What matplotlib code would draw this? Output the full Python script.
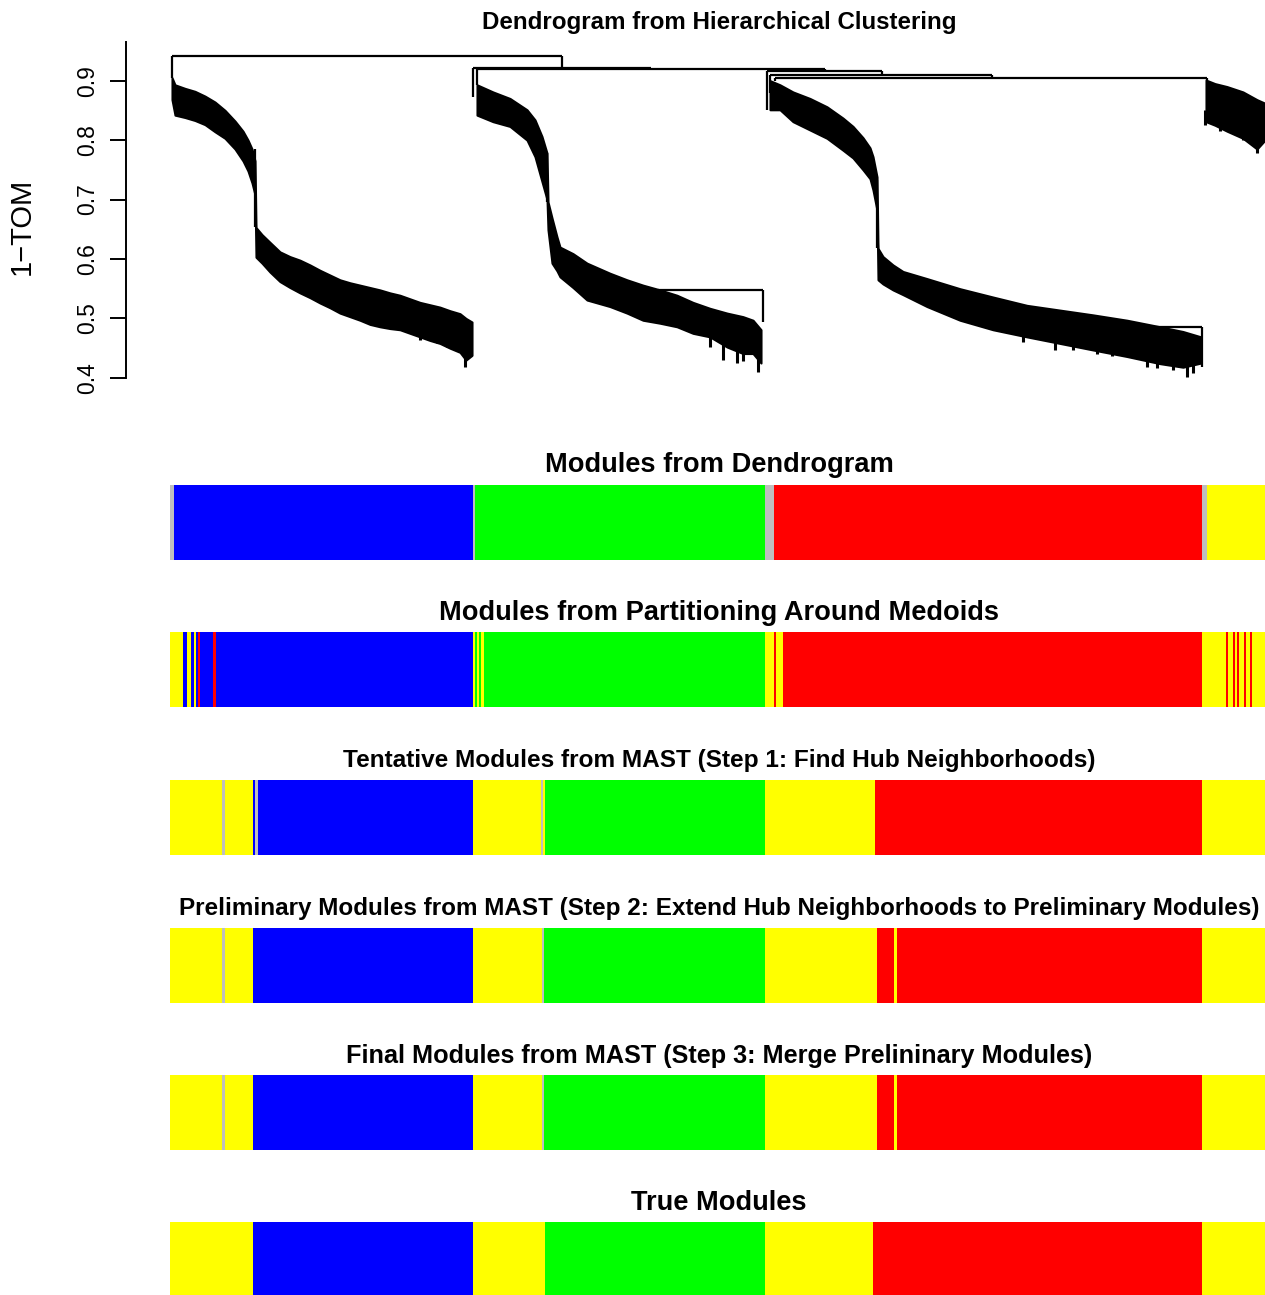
"""
Dendrogram from hierarchical clustering with module colour bars
"""
# importing the required libraries
import numpy as np
import matplotlib
matplotlib.use('Agg')
import matplotlib.pyplot as plt

plt.rcParams['font.family'] = ['Liberation Sans', 'DejaVu Sans']

# leaf positions are in leaf-order units, 0 .. N_LEAVES
N_LEAVES = 1095

# ---- dendrogram: dense branches of each cluster (leaf position, upper and lower height)
c1_x = [2, 5, 15, 25, 35, 45, 55, 65, 73, 78, 82, 85,
        86, 92, 100, 110, 120, 130, 140, 150, 160, 170, 180, 190,
        200, 210, 220, 230, 240, 250, 260, 270, 280, 290, 296, 302]
c1_top = [0.905, 0.893, 0.887, 0.882, 0.874, 0.864, 0.850, 0.832, 0.815, 0.800, 0.785, 0.765,
          0.653, 0.641, 0.628, 0.612, 0.604, 0.598, 0.590, 0.581, 0.573, 0.565, 0.560, 0.556,
          0.552, 0.548, 0.543, 0.539, 0.533, 0.527, 0.523, 0.519, 0.513, 0.508, 0.500, 0.494]
c1_bottom = [0.868, 0.842, 0.838, 0.833, 0.826, 0.814, 0.803, 0.785, 0.765, 0.748, 0.728, 0.708,
             0.603, 0.593, 0.578, 0.562, 0.552, 0.543, 0.535, 0.526, 0.518, 0.509, 0.503, 0.497,
             0.490, 0.486, 0.483, 0.481, 0.475, 0.469, 0.463, 0.458, 0.450, 0.443, 0.430, 0.438]

c2_x = [307, 323, 340, 357, 365, 372, 377,
        378, 382, 387, 390, 403, 417, 440, 457, 473, 490, 507, 523, 540, 557, 573, 583, 591]
c2_top = [0.893, 0.881, 0.870, 0.851, 0.834, 0.806, 0.778,
          0.696, 0.669, 0.637, 0.620, 0.609, 0.593, 0.576, 0.565, 0.556, 0.548, 0.539,
          0.527, 0.517, 0.509, 0.503, 0.497, 0.481]
c2_bottom = [0.842, 0.831, 0.823, 0.800, 0.772, 0.730, 0.700,
             0.649, 0.593, 0.580, 0.570, 0.552, 0.531, 0.520, 0.509, 0.497, 0.492, 0.486,
             0.475, 0.469, 0.452, 0.441, 0.441, 0.425]

c3_x = [600, 610, 623, 640, 657, 673, 683, 693, 700, 703, 707,
        708, 713, 723, 733, 757, 790, 823, 857, 890, 923, 957, 990, 1013, 1031]
c3_top = [0.900, 0.893, 0.881, 0.870, 0.856, 0.837, 0.823, 0.804, 0.787, 0.772, 0.738,
          0.618, 0.604, 0.590, 0.579, 0.567, 0.550, 0.536, 0.522, 0.514, 0.506, 0.497,
          0.486, 0.478, 0.469]
c3_bottom = [0.851, 0.851, 0.831, 0.817, 0.803, 0.783, 0.770, 0.750, 0.735, 0.716, 0.682,
             0.565, 0.558, 0.548, 0.540, 0.520, 0.497, 0.481, 0.469, 0.458, 0.447, 0.436,
             0.424, 0.418, 0.425]

c4_x = [1036, 1045, 1057, 1073, 1087, 1095]
c4_top = [0.901, 0.895, 0.890, 0.881, 0.868, 0.862]
c4_bottom = [0.831, 0.825, 0.815, 0.803, 0.785, 0.800]

# single leaves hanging below the dense branches
spike_x = [250, 267, 277, 295,
           540, 553, 567, 573, 588,
           853, 885, 903, 927, 942, 958, 977, 987, 1003, 1017, 1023,
           1035, 1050, 1073, 1087]
spike_low = [0.463, 0.458, 0.452, 0.418,
             0.452, 0.430, 0.425, 0.428, 0.410,
             0.461, 0.447, 0.447, 0.441, 0.436, 0.436, 0.418, 0.416, 0.413, 0.402, 0.408,
             0.825, 0.815, 0.800, 0.778]
spike_high = [0.480, 0.470, 0.460, 0.445,
              0.470, 0.460, 0.450, 0.450, 0.440,
              0.480, 0.465, 0.460, 0.455, 0.450, 0.450, 0.440, 0.440, 0.435, 0.430, 0.430,
              0.850, 0.840, 0.830, 0.810]

# ---- dendrogram: upper merges (left x, right x, height, left child height, right child height)
link_left = [2, 303, 307, 597, 600, 605, 488, 980]
link_right = [392, 481, 654.5, 712, 822, 1037, 593, 1032]
link_height = [0.942, 0.921, 0.919, 0.917, 0.909, 0.905, 0.548, 0.486]
link_left_child = [0.905, 0.873, 0.893, 0.851, 0.880, 0.900, 0.540, 0.480]
link_right_child = [0.921, 0.919, 0.917, 0.909, 0.905, 0.901, 0.494, 0.418]

# long stems joining the upper and lower parts of a cluster
stem_x = [85, 377, 707]
stem_top = [0.785, 0.778, 0.733]
stem_bottom = [0.653, 0.696, 0.618]

# ---- module colour bars: start of each run and its colour
bar_titles = [
    'Modules from Dendrogram',
    'Modules from Partitioning Around Medoids',
    'Tentative Modules from MAST (Step 1: Find Hub Neighborhoods)',
    'Preliminary Modules from MAST (Step 2: Extend Hub Neighborhoods to Preliminary Modules)',
    'Final Modules from MAST (Step 3: Merge Prelininary Modules)',
    'True Modules',
]
dendro_starts = [0, 4, 303, 305, 595, 604, 1032, 1037]
dendro_colors = ['grey', 'blue', 'grey', 'green', 'grey', 'red', 'grey', 'yellow']

pam_starts = [0, 13, 17, 21, 24, 26, 28, 30, 43, 46, 303, 305, 307, 309, 311, 314,
              595, 604, 606, 613, 1032, 1056, 1058, 1063, 1065, 1067, 1069, 1074,
              1076, 1080, 1082]
pam_colors = ['yellow', 'blue', 'yellow', 'blue', 'yellow', 'blue', 'red', 'blue', 'red',
              'blue', 'yellow', 'green', 'yellow', 'green', 'yellow', 'green',
              'yellow', 'red', 'yellow', 'red', 'yellow', 'red', 'yellow', 'red',
              'yellow', 'red', 'yellow', 'red', 'yellow', 'red', 'yellow']

tentative_starts = [0, 52, 55, 83, 85, 88, 303, 371, 373, 375, 595, 705, 1032]
tentative_colors = ['yellow', 'grey', 'yellow', 'blue', 'grey', 'blue', 'yellow', 'grey',
                    'yellow', 'green', 'yellow', 'red', 'yellow']

prelim_starts = [0, 52, 55, 83, 303, 372, 374, 595, 707, 724, 727, 1032]
prelim_colors = ['yellow', 'grey', 'yellow', 'blue', 'yellow', 'grey', 'green', 'yellow',
                 'red', 'yellow', 'red', 'yellow']

final_starts = [0, 52, 55, 83, 303, 372, 374, 595, 707, 724, 727, 1032]
final_colors = ['yellow', 'grey', 'yellow', 'blue', 'yellow', 'grey', 'green', 'yellow',
                'red', 'yellow', 'red', 'yellow']

true_starts = [0, 83, 303, 375, 595, 703, 1032]
true_colors = ['yellow', 'blue', 'yellow', 'green', 'yellow', 'red', 'yellow']

R_COLORS = {'grey': '#BEBEBE', 'blue': '#0000FF', 'green': '#00FF00',
            'red': '#FF0000', 'yellow': '#FFFF00'}

W, H = 1265, 1295


def px_rect(left, top, width, height):
    """pixel box -> figure fraction rectangle"""
    return [left / W, 1 - (top + height) / H, width / W, height / H]


def draw_dendrogram(fig):
    """
    dense dendrogram drawn from the branch profiles and merge heights
    """
    ax = fig.add_axes(px_rect(126, 42, W - 126, 368))
    for x, top, bottom in [(c1_x, c1_top, c1_bottom), (c2_x, c2_top, c2_bottom),
                           (c3_x, c3_top, c3_bottom), (c4_x, c4_top, c4_bottom)]:
        ax.fill_between(x, bottom, top, color='black', linewidth=1.5, edgecolor='black')

    ax.vlines(spike_x, spike_low, spike_high, color='black', linewidth=2.2)
    ax.hlines(link_height, link_left, link_right, color='black', linewidth=1.6)
    ax.vlines(link_left, link_left_child, link_height, color='black', linewidth=1.6)
    ax.vlines(link_right, link_right_child, link_height, color='black', linewidth=1.6)
    ax.vlines(stem_x, stem_bottom, stem_top, color='black', linewidth=1.6)

    ax.set_xlim(-44, N_LEAVES)
    ax.set_ylim(0.346, 0.965)
    ax.set_xticks([])
    for side in ['top', 'right', 'bottom']:
        ax.spines[side].set_visible(False)
    ax.spines['left'].set_bounds(0.4, 0.965)
    ax.spines['left'].set_linewidth(1.4)
    ticks = [0.4, 0.5, 0.6, 0.7, 0.8, 0.9]
    ax.set_yticks(ticks)
    ax.set_yticklabels([f'{t:.1f}' for t in ticks], rotation=90, va='center', fontsize=16.5)
    ax.tick_params(axis='y', length=11.5, width=1.4, pad=8)

    fig.text(22 / W, 1 - 226 / H, '1\u2212TOM', rotation=90, ha='center', va='center',
             fontsize=21)
    fig.text(719 / W, 1 - 22 / H, 'Dendrogram from Hierarchical Clustering',
             ha='center', va='center', fontsize=17.4, fontweight='bold')


def draw_colour_bar(fig, top, starts, colors, title, title_y, size):
    """
    one row of module colours under the dendrogram
    """
    ax = fig.add_axes(px_rect(170, top, N_LEAVES, 75))
    ends = starts[1:] + [N_LEAVES]
    widths = np.array(ends) - np.array(starts)
    ax.bar(starts, 1, width=widths, align='edge',
           color=[R_COLORS[c] for c in colors], linewidth=0)
    ax.set_xlim(0, N_LEAVES)
    ax.set_ylim(0, 1)
    ax.axis('off')
    fig.text(719 / W, 1 - title_y / H, title, ha='center', va='center',
             fontsize=size, fontweight='bold')


def main():
    """
    dendrogram plus module colour rows
    """
    fig = plt.figure(figsize=(W / 100, H / 100), dpi=100)
    draw_dendrogram(fig)

    rows = [(dendro_starts, dendro_colors), (pam_starts, pam_colors),
            (tentative_starts, tentative_colors), (prelim_starts, prelim_colors),
            (final_starts, final_colors), (true_starts, true_colors)]
    bar_tops = [485, 632, 780, 928, 1075, 1222]
    title_ys = [465, 613, 760, 908, 1056, 1203]
    sizes = [19.6, 19.6, 17.55, 17.5, 18.2, 19.6]
    for (starts, colors), title, top, ty, size in zip(rows, bar_titles, bar_tops,
                                                      title_ys, sizes):
        draw_colour_bar(fig, top, starts, colors, title, ty, size)

    fig.savefig('out.png', dpi=100)


if __name__ == '__main__':
    main()
